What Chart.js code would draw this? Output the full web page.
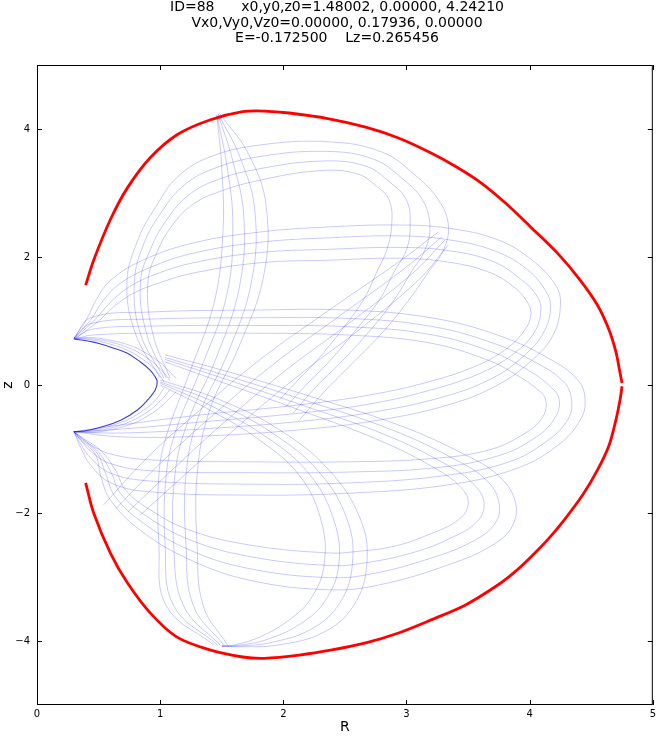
<!DOCTYPE html>
<html>
<head>
<meta charset="utf-8">
<script src="https://cdn.jsdelivr.net/npm/chart.js@4.4.1/dist/chart.umd.min.js"></script>
<style>
  html, body { margin: 0; padding: 0; background: #fff; }
  #wrap { width: 659px; height: 736px; }
</style>
</head>
<body>
<div id="wrap"><canvas id="c"></canvas></div>
<script>
const titleLines = [
  'ID=88      x0,y0,z0=1.48002, 0.00000, 4.24210',
  'Vx0,Vy0,Vz0=0.00000, 0.17936, 0.00000',
  'E=-0.172500    Lz=0.265456'
];
const rTicks = [0, 1, 2, 3, 4, 5];
const zTicks = [-4, -2, 0, 2, 4];

// zero velocity curve (R, z)
const zvcUpper = [[0.395,1.56],[0.46,1.95],[0.597,2.59],[0.734,3.08],[0.919,3.55],[1.137,3.91],[1.403,4.14],[1.669,4.27],[1.847,4.28],[2.048,4.25],[2.371,4.16],[2.669,4.03],[2.935,3.86],[3.20,3.625],[3.403,3.41],[3.605,3.16],[3.806,2.84],[4.008,2.47],[4.226,2.06],[4.41,1.64],[4.55,1.25],[4.645,0.86],[4.70,0.52],[4.73,0.23],[4.75,0.03]];
const zvcLower = [[4.75,-0.02],[4.734,-0.23],[4.70,-0.55],[4.645,-0.94],[4.55,-1.33],[4.43,-1.72],[4.28,-2.11],[4.145,-2.42],[4.008,-2.69],[3.88,-2.92],[3.742,-3.125],[3.476,-3.44],[3.20,-3.67],[2.935,-3.875],[2.669,-4.03],[2.395,-4.14],[2.129,-4.22],[1.847,-4.27],[1.669,-4.25],[1.403,-4.14],[1.137,-3.94],[0.919,-3.56],[0.734,-3.09],[0.597,-2.63],[0.46,-2.0],[0.395,-1.53]];

// dark inner curve
const innerCurve = [[0.30,0.72],[0.46,0.67],[0.60,0.59],[0.73,0.50],[0.84,0.36],[0.92,0.23],[0.96,0.125],[0.976,0.05],[0.96,-0.08],[0.90,-0.23],[0.815,-0.39],[0.68,-0.55],[0.516,-0.66],[0.38,-0.72],[0.30,-0.73]];

// orbit bands, several strands each
const bandV1 = [
  [[1.48,4.25],[1.72,3.6],[1.86,2.8],[1.84,1.7],[1.64,0.6],[1.40,-0.4],[1.30,-1.4],[1.30,-2.5],[1.35,-3.45],[1.55,-4.07]],
  [[1.47,4.24],[1.65,3.55],[1.77,2.7],[1.74,1.6],[1.55,0.5],[1.31,-0.5],[1.21,-1.4],[1.21,-2.5],[1.27,-3.45],[1.52,-4.07]],
  [[1.47,4.23],[1.59,3.5],[1.68,2.6],[1.64,1.5],[1.45,0.4],[1.22,-0.6],[1.12,-1.4],[1.11,-2.5],[1.19,-3.45],[1.49,-4.07]],
  [[1.46,4.22],[1.54,3.45],[1.59,2.5],[1.54,1.4],[1.34,0.3],[1.13,-0.7],[1.05,-1.4],[1.04,-2.5],[1.11,-3.45],[1.47,-4.07]],
  [[1.46,4.22],[1.50,3.4],[1.51,2.4],[1.44,1.3],[1.24,0.2],[1.05,-0.8],[0.99,-1.4],[0.99,-2.5],[1.05,-3.45],[1.44,-4.07]]
];
const bandTop = [
  [[1.0,0.11],[0.80,0.8],[0.73,1.6],[0.82,2.27],[0.97,2.8],[1.14,3.25],[1.40,3.56],[1.81,3.75],[2.37,3.80],[2.80,3.64],[3.07,3.28],[3.26,2.89],[3.34,2.50],[3.30,2.11],[3.18,1.77],[3.02,1.33],[2.80,0.81],[2.53,0.28],[2.33,-0.11],[2.13,-0.55]],
  [[1.03,0.11],[0.84,0.8],[0.79,1.6],[0.87,2.22],[1.01,2.7],[1.18,3.1],[1.42,3.37],[1.81,3.57],[2.35,3.65],[2.73,3.53],[2.97,3.22],[3.13,2.89],[3.19,2.50],[3.15,2.11],[3.04,1.77],[2.90,1.33],[2.69,0.82],[2.45,0.32],[2.26,-0.04],[2.08,-0.44]],
  [[1.05,0.11],[0.89,0.8],[0.84,1.6],[0.93,2.16],[1.06,2.6],[1.22,2.95],[1.44,3.19],[1.81,3.38],[2.33,3.50],[2.67,3.42],[2.87,3.16],[3.0,2.89],[3.03,2.50],[3.0,2.11],[2.90,1.77],[2.78,1.33],[2.58,0.84],[2.37,0.36],[2.20,0.03],[2.02,-0.34]],
  [[1.08,0.11],[0.94,0.8],[0.90,1.6],[0.98,2.1],[1.10,2.5],[1.25,2.8],[1.45,3.0],[1.81,3.20],[2.30,3.35],[2.60,3.30],[2.76,3.10],[2.86,2.89],[2.88,2.50],[2.84,2.11],[2.76,1.77],[2.65,1.33],[2.47,0.85],[2.28,0.40],[2.13,0.10],[1.97,-0.23]]
];
const bandH2 = [
  [[0.30,0.73],[0.41,1.05],[0.48,1.33],[0.60,1.64],[0.86,1.95],[1.27,2.22],[1.81,2.39],[2.37,2.47],[2.94,2.50],[3.34,2.45],[3.74,2.27],[4.02,1.95],[4.21,1.56],[4.25,1.25],[4.19,0.78],[4.02,0.39],[3.74,0.0],[3.34,-0.31],[2.77,-0.55],[2.13,-0.70],[1.32,-0.80],[0.68,-0.81],[0.30,-0.73]],
  [[0.30,0.73],[0.44,1.03],[0.53,1.30],[0.67,1.58],[0.91,1.83],[1.27,2.06],[1.81,2.23],[2.37,2.30],[2.94,2.33],[3.34,2.27],[3.71,2.10],[3.97,1.82],[4.13,1.47],[4.17,1.20],[4.11,0.81],[3.95,0.45],[3.69,0.10],[3.29,-0.19],[2.74,-0.42],[2.13,-0.57],[1.32,-0.69],[0.68,-0.75],[0.30,-0.73]],
  [[0.30,0.72],[0.47,1.02],[0.59,1.28],[0.73,1.51],[0.95,1.72],[1.27,1.91],[1.81,2.07],[2.37,2.12],[2.94,2.15],[3.34,2.10],[3.69,1.94],[3.91,1.68],[4.06,1.39],[4.09,1.15],[4.04,0.83],[3.89,0.52],[3.63,0.21],[3.23,-0.06],[2.72,-0.29],[2.13,-0.44],[1.32,-0.58],[0.68,-0.69],[0.30,-0.73]],
  [[0.31,0.72],[0.50,1.0],[0.64,1.25],[0.80,1.45],[1.0,1.60],[1.27,1.75],[1.81,1.91],[2.37,1.95],[2.94,1.98],[3.34,1.92],[3.66,1.77],[3.86,1.55],[3.98,1.30],[4.01,1.10],[3.96,0.86],[3.82,0.58],[3.58,0.31],[3.18,0.05],[2.69,-0.16],[2.13,-0.31],[1.32,-0.47],[0.68,-0.625],[0.30,-0.73]]
];
const bandH3 = [
  [[0.30,0.73],[0.435,1.05],[0.92,1.14],[1.73,1.17],[2.53,1.17],[3.20,1.05],[3.74,0.78],[4.15,0.42],[4.39,0.08],[4.45,-0.23],[4.41,-0.55],[4.23,-0.94],[3.90,-1.30],[3.34,-1.56],[2.53,-1.69],[1.73,-1.72],[0.92,-1.67],[0.60,-1.53],[0.435,-1.25],[0.355,-0.98],[0.30,-0.73]],
  [[0.30,0.73],[0.44,0.96],[0.92,1.03],[1.73,1.05],[2.53,1.04],[3.19,0.92],[3.71,0.65],[4.07,0.33],[4.28,0.04],[4.34,-0.23],[4.31,-0.54],[4.13,-0.89],[3.82,-1.21],[3.29,-1.42],[2.53,-1.53],[1.73,-1.55],[0.92,-1.50],[0.60,-1.38],[0.44,-1.15],[0.357,-0.93],[0.30,-0.73]],
  [[0.30,0.72],[0.445,0.87],[0.92,0.92],[1.73,0.93],[2.53,0.91],[3.19,0.79],[3.69,0.52],[3.98,0.24],[4.16,-0.01],[4.24,-0.23],[4.20,-0.53],[4.04,-0.83],[3.74,-1.11],[3.25,-1.29],[2.53,-1.36],[1.73,-1.37],[0.92,-1.34],[0.60,-1.23],[0.445,-1.05],[0.358,-0.87],[0.30,-0.73]],
  [[0.31,0.72],[0.45,0.78],[0.92,0.81],[1.73,0.81],[2.53,0.78],[3.18,0.66],[3.66,0.39],[3.90,0.15],[4.05,-0.05],[4.13,-0.23],[4.10,-0.52],[3.94,-0.78],[3.66,-1.02],[3.20,-1.15],[2.53,-1.20],[1.73,-1.20],[0.92,-1.17],[0.60,-1.08],[0.45,-0.95],[0.36,-0.82],[0.30,-0.73]]
];
const bandLow = [
  [[1.04,0.47],[1.565,0.20],[2.13,-0.125],[2.935,-0.625],[3.476,-1.09],[3.742,-1.41],[3.88,-1.80],[3.863,-2.19],[3.70,-2.50],[3.34,-2.81],[2.774,-3.125],[2.371,-3.20],[1.726,-3.05],[1.242,-2.73],[0.839,-2.27],[0.597,-1.80],[0.516,-1.41],[0.476,-1.09],[0.355,-0.86],[0.298,-0.73]],
  [[1.04,0.43],[1.565,0.13],[2.13,-0.21],[2.88,-0.70],[3.40,-1.17],[3.65,-1.49],[3.75,-1.83],[3.72,-2.16],[3.53,-2.45],[3.19,-2.71],[2.72,-2.95],[2.371,-3.01],[1.726,-2.87],[1.242,-2.58],[0.866,-2.16],[0.637,-1.75],[0.556,-1.38],[0.49,-1.07],[0.363,-0.85],[0.298,-0.73]],
  [[1.04,0.40],[1.565,0.07],[2.13,-0.30],[2.83,-0.78],[3.33,-1.25],[3.55,-1.56],[3.63,-1.85],[3.57,-2.14],[3.35,-2.40],[3.05,-2.62],[2.66,-2.78],[2.371,-2.82],[1.726,-2.68],[1.242,-2.42],[0.89,-2.05],[0.68,-1.70],[0.60,-1.36],[0.50,-1.05],[0.37,-0.85],[0.298,-0.73]],
  [[1.04,0.36],[1.565,0.0],[2.13,-0.39],[2.774,-0.86],[3.258,-1.33],[3.46,-1.64],[3.50,-1.875],[3.42,-2.11],[3.177,-2.34],[2.9,-2.52],[2.6,-2.60],[2.371,-2.625],[1.726,-2.50],[1.242,-2.27],[0.919,-1.95],[0.718,-1.64],[0.637,-1.33],[0.516,-1.02],[0.38,-0.84],[0.298,-0.73]]
];
const bandV2 = [
  [[1.0,0.08],[1.484,-0.23],[1.968,-0.70],[2.371,-1.33],[2.629,-2.11],[2.677,-2.81],[2.573,-3.44],[2.331,-3.86],[1.968,-4.06],[1.645,-4.09],[1.50,-4.08]],
  [[1.0,0.05],[1.457,-0.28],[1.91,-0.75],[2.29,-1.36],[2.52,-2.11],[2.56,-2.81],[2.46,-3.40],[2.24,-3.80],[1.91,-4.02],[1.63,-4.08],[1.50,-4.08]],
  [[1.0,0.03],[1.43,-0.34],[1.86,-0.81],[2.21,-1.39],[2.41,-2.11],[2.45,-2.81],[2.34,-3.37],[2.14,-3.73],[1.86,-3.98],[1.62,-4.07],[1.50,-4.08]],
  [[1.0,0.0],[1.403,-0.39],[1.806,-0.86],[2.129,-1.41],[2.306,-2.11],[2.331,-2.81],[2.226,-3.33],[2.048,-3.67],[1.806,-3.94],[1.605,-4.06],[1.50,-4.08]]
];
const bandD2 = [
  [[0.54,-1.875],[0.919,-1.09],[1.323,-0.39],[1.806,0.39],[2.371,1.17],[2.935,1.92],[3.258,2.39]],
  [[0.64,-1.93],[1.03,-1.17],[1.43,-0.47],[1.91,0.31],[2.45,1.07],[2.99,1.83],[3.29,2.32]],
  [[0.74,-1.98],[1.14,-1.25],[1.54,-0.55],[2.02,0.23],[2.53,0.96],[3.04,1.73],[3.31,2.26]],
  [[0.839,-2.03],[1.242,-1.33],[1.645,-0.625],[2.129,0.156],[2.613,0.86],[3.097,1.64],[3.339,2.19]]
];
const ribbonUp = [
  [[0.30,0.73],[0.46,0.70],[0.61,0.63],[0.75,0.53],[0.86,0.40],[0.95,0.26],[1.0,0.14],[1.03,0.05]],
  [[0.30,0.73],[0.46,0.72],[0.62,0.66],[0.77,0.56],[0.89,0.43],[0.98,0.29],[1.04,0.17],[1.08,0.07]],
  [[0.30,0.73],[0.45,0.74],[0.62,0.69],[0.78,0.60],[0.91,0.47],[1.01,0.33],[1.08,0.20],[1.13,0.10]]
];
const ribbonDown = [
  [[0.30,-0.73],[0.46,-0.70],[0.61,-0.63],[0.75,-0.53],[0.86,-0.40],[0.95,-0.26],[1.0,-0.14],[1.03,-0.05]],
  [[0.30,-0.73],[0.46,-0.72],[0.62,-0.66],[0.77,-0.56],[0.89,-0.43],[0.98,-0.29],[1.04,-0.17],[1.08,-0.07]],
  [[0.30,-0.73],[0.45,-0.74],[0.62,-0.69],[0.78,-0.60],[0.91,-0.47],[1.01,-0.33],[1.08,-0.20],[1.13,-0.10]]
];

const toPts = line => line.map(p => ({ x: p[0], y: p[1] }));

const datasets = [
  { data: toPts(zvcUpper), borderColor: '#ff0000', borderWidth: 2.8, tension: 0.3 },
  { data: toPts(zvcLower), borderColor: '#ff0000', borderWidth: 2.8, tension: 0.3 },
  { data: toPts(innerCurve), borderColor: 'rgba(40,40,205,0.9)', borderWidth: 1.1, tension: 0.4 }
];
[bandV1, bandTop, bandH2, bandH3, bandLow, bandV2, bandD2, ribbonUp, ribbonDown].forEach(band => {
  band.forEach(line => datasets.push({
    data: toPts(line), borderColor: 'rgba(0,0,255,0.24)', borderWidth: 0.9, tension: 0.4
  }));
});

// title, frame and inward ticks, like the original figure
const framePlugin = {
  id: 'frame',
  afterDraw(chart) {
    const { ctx, chartArea: a, scales: { x, y } } = chart;
    ctx.save();
    ctx.fillStyle = '#000';
    ctx.font = '14px "DejaVu Sans"';
    ctx.textAlign = 'center';
    ctx.textBaseline = 'middle';
    titleLines.forEach((t, i) => ctx.fillText(t, 337, 7.5 + i * 15.5));

    ctx.strokeStyle = '#000';
    ctx.lineWidth = 1;
    ctx.strokeRect(a.left + 0.5, a.top + 0.5, a.right - a.left - 1, a.bottom - a.top - 1);
    ctx.beginPath();
    rTicks.forEach(v => {
      const px = Math.round(x.getPixelForValue(v)) + 0.5;
      ctx.moveTo(px, a.bottom); ctx.lineTo(px, a.bottom - 5);
      ctx.moveTo(px, a.top); ctx.lineTo(px, a.top + 5);
    });
    zTicks.forEach(v => {
      const py = Math.round(y.getPixelForValue(v)) + 0.5;
      ctx.moveTo(a.left, py); ctx.lineTo(a.left + 5, py);
      ctx.moveTo(a.right, py); ctx.lineTo(a.right - 5, py);
    });
    ctx.stroke();
    ctx.restore();
  }
};

Chart.defaults.font.family = 'DejaVu Sans';
Chart.defaults.color = '#000';

new Chart(document.getElementById('c'), {
  type: 'scatter',
  data: { datasets },
  options: {
    responsive: true,
    maintainAspectRatio: false,
    animation: false,
    events: [],
    layout: { padding: { top: 65, right: 4, bottom: 0, left: 0 } },
    elements: { point: { radius: 0 } },
    datasets: { scatter: { showLine: true, pointRadius: 0 } },
    plugins: {
      legend: { display: false },
      tooltip: { enabled: false },
      title: { display: false }
    },
    scales: {
      x: {
        type: 'linear',
        min: 0, max: 5,
        afterBuildTicks: s => { s.ticks = rTicks.map(v => ({ value: v })); },
        afterFit: s => { s.height = 31; },
        grid: { display: false, drawTicks: false },
        border: { display: false },
        ticks: { font: { size: 10 }, padding: 3, maxRotation: 0 },
        title: { display: true, text: 'R', font: { size: 14 }, padding: { top: 0, bottom: 0 } }
      },
      y: {
        type: 'linear',
        min: -5, max: 5,
        afterBuildTicks: s => { s.ticks = zTicks.map(v => ({ value: v })); },
        afterFit: s => { s.width = 37; },
        grid: { display: false, drawTicks: false },
        border: { display: false },
        ticks: { font: { size: 10 }, padding: 7, callback: v => String(v).replace('-', '\u2212') },
        title: { display: true, text: 'z', font: { size: 14 }, padding: { top: 0, bottom: 0 } }
      }
    }
  },
  plugins: [framePlugin]
});
</script>
</body>
</html>
